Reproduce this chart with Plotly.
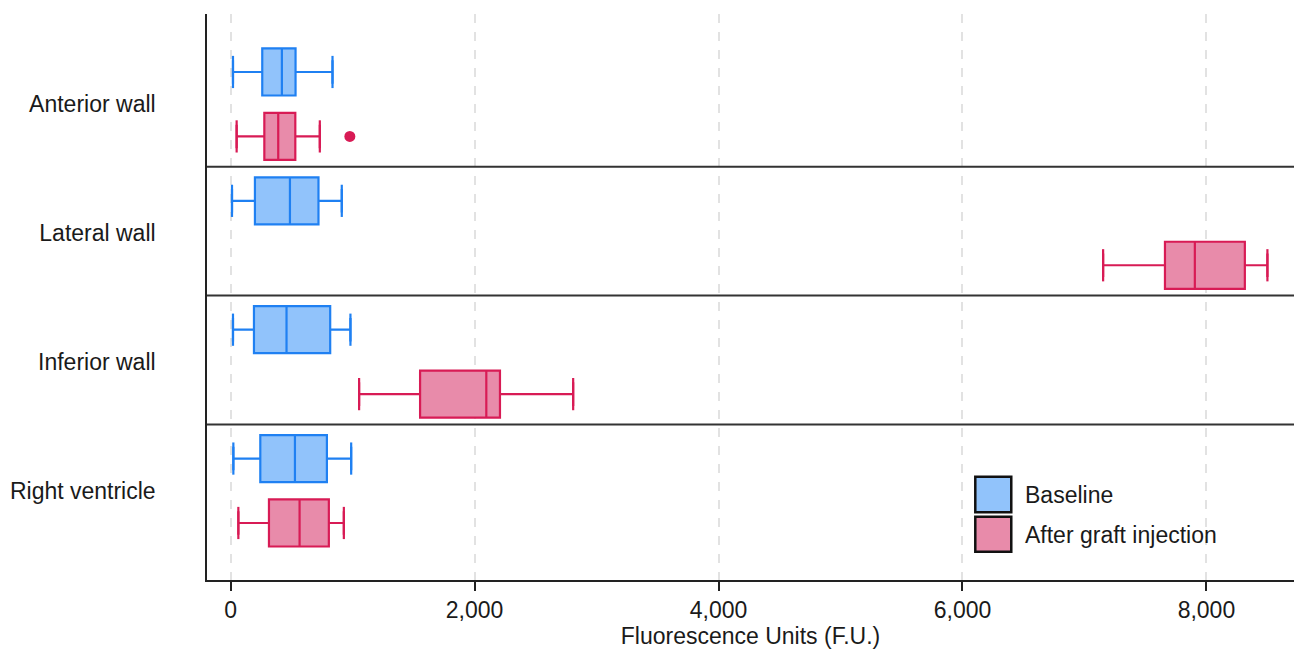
import plotly.graph_objects as go

# ---------------- data ----------------
regions = ["Anterior wall", "Lateral wall", "Inferior wall", "Right ventricle"]
series_names = ["Baseline", "After graft injection"]

base_low = [19, 11, 19, 22]
base_q1 = [259, 199, 191, 243]
base_med = [420, 486, 458, 527]
base_q3 = [532, 720, 816, 789]
base_high = [835, 911, 982, 988]

graft_low = [49, 7153, 1053, 63]
graft_q1 = [276, 7660, 1553, 314]
graft_med = [390, 7905, 2096, 565]
graft_q3 = [530, 8315, 2208, 805]
graft_high = [731, 8500, 2808, 928]

graft_outlier_region = ["Anterior wall"]
graft_outlier_value = [977]

x_ticks = [0, 2000, 4000, 6000, 8000]
x_title = "Fluorescence Units (F.U.)"

# ---------------- style ----------------
FONT = "Liberation Sans, Arial, Helvetica, sans-serif"
TXT = "#1a1a1a"
BLUE_LINE = "#1f80f2"
BLUE_FILL = "#91c3fb"
PINK_LINE = "#d81b55"
PINK_FILL = "#e88baa"
BOX_W = 0.73
CAP_H = 0.5

base_pos = [2 * i for i in range(len(regions))]
graft_pos = [2 * i + 1 for i in range(len(regions))]

fig = go.Figure()


def add_series(name, pos, low, q1, med, q3, high, line_c, fill_c):
    fig.add_trace(go.Box(
        name=name, orientation="h", y=pos,
        q1=q1, median=med, q3=q3, lowerfence=low, upperfence=high,
        width=BOX_W, fillcolor=fill_c,
        line=dict(color=line_c, width=2.2),
        boxpoints=False, showlegend=False, hoverinfo="skip",
    ))
    cx, cy = [], []
    for p, lo, hi in zip(pos, low, high):
        for v in (lo, hi):
            cx += [v, v, None]
            cy += [p - CAP_H / 2, p + CAP_H / 2, None]
    fig.add_trace(go.Scatter(
        x=cx, y=cy, mode="lines", line=dict(color=line_c, width=2.2),
        showlegend=False, hoverinfo="skip",
    ))


add_series(series_names[0], base_pos, base_low, base_q1, base_med, base_q3,
           base_high, BLUE_LINE, BLUE_FILL)
add_series(series_names[1], graft_pos, graft_low, graft_q1, graft_med, graft_q3,
           graft_high, PINK_LINE, PINK_FILL)

fig.add_trace(go.Scatter(
    x=graft_outlier_value,
    y=[graft_pos[regions.index(r)] for r in graft_outlier_region],
    mode="markers", marker=dict(color=PINK_LINE, size=11),
    showlegend=False, hoverinfo="skip",
))

# group separators
shapes = []
for k in range(1, len(regions)):
    yv = 2 * k - 0.53
    shapes.append(dict(type="line", xref="paper", x0=0, x1=1, yref="y",
                       y0=yv, y1=yv, line=dict(color="#333333", width=2)))

# custom legend (square swatches with black border)
leg = [(series_names[0], BLUE_FILL, 0.1825, 0.1196, 0.150),
       (series_names[1], PINK_FILL, 0.1118, 0.050, 0.0795)]
annotations = []
for name, fc, y1, y0, yt in leg:
    shapes.append(dict(type="rect", xref="paper", yref="paper",
                       x0=0.7068, x1=0.7399, y0=y0, y1=y1,
                       fillcolor=fc, line=dict(color="#111111", width=2.5)))
    annotations.append(dict(xref="paper", yref="paper", x=0.751, y=yt,
                            text=name, showarrow=False, xanchor="left",
                            yanchor="middle",
                            font=dict(family=FONT, size=23, color=TXT)))

fig.update_layout(
    width=1296, height=652,
    margin=dict(l=207, r=2, t=14, b=72),
    paper_bgcolor="white", plot_bgcolor="white",
    font=dict(family=FONT, size=23, color=TXT),
    shapes=shapes, annotations=annotations,
    showlegend=False,
)
fig.update_xaxes(
    range=[-194, 8718], tickvals=x_ticks, tickformat=",",
    showgrid=True, gridcolor="#e2e2e2", gridwidth=1.5, griddash="dash",
    zeroline=False, showline=True, linecolor="#222222", linewidth=1.5,
    ticks="outside", ticklen=9, tickwidth=1.5, tickcolor="#222222",
    title=dict(text=x_title, standoff=4, font=dict(size=23)),
    tickfont=dict(size=23),
)
fig.update_yaxes(
    range=[7.885, -0.9], tickvals=[2 * i + 0.5 for i in range(len(regions))],
    ticktext=regions, showgrid=False, zeroline=False,
    showline=True, linecolor="#222222", linewidth=1.5, ticks="",
    ticklabelstandoff=45, tickfont=dict(size=23),
)

# remove the browser's default 8px body margin so the figure sits at (0, 0)
fig.write_html("out.html",
               config={"displayModeBar": False},
               post_script="document.body.style.margin='0';"
                           "document.body.style.overflow='hidden';")
